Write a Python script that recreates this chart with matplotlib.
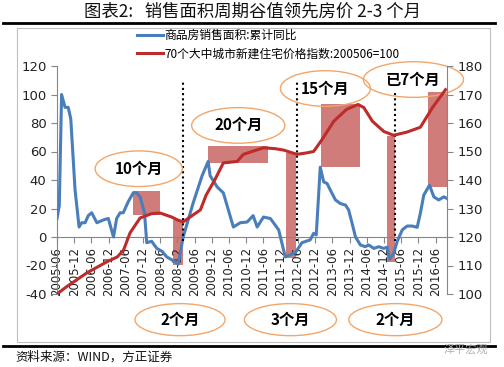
import matplotlib
matplotlib.use("Agg")
from matplotlib import pyplot as plt
from matplotlib.patches import Ellipse, Rectangle
from matplotlib.lines import Line2D

plt.rcParams['font.family'] = ['Noto Sans CJK SC', 'DejaVu Sans']
plt.rcParams['axes.unicode_minus'] = False

# months counted from 2005-06
tick_labels = ["2005-06", "2005-12", "2006-06", "2006-12", "2007-06", "2007-12",
               "2008-06", "2008-12", "2009-06", "2009-12", "2010-06", "2010-12",
               "2011-06", "2011-12", "2012-06", "2012-12", "2013-06", "2013-12",
               "2014-06", "2014-12", "2015-06", "2015-12", "2016-06"]
tick_months = [0, 6, 12, 18, 24, 30, 36, 42, 48, 54, 60, 66, 72, 78, 84, 90,
               96, 102, 108, 114, 120, 126, 132]

# 商品房销售面积:累计同比 (left axis, %)
sales_m = [0.0, 0.8, 1.6, 2.8, 3.9, 4.8, 6.3, 7.7, 8.6, 9.8, 10.9, 12.1, 13.9,
           16.2, 17.9, 19.7, 20.8, 22.0, 23.1, 24.9, 26.6, 27.8, 29.0, 30.5,
           31.3, 33.0, 34.8, 36.6, 38.3, 40.0, 42.3, 44.0, 47.5, 50.6, 52.7,
           53.4, 55.9, 58.0, 61.5, 63.9, 66.3, 68.4, 69.8, 72.0, 74.4, 77.3,
           79.0, 79.6, 83.1, 85.4, 88.3, 89.5, 90.4, 91.8, 93.0, 94.2, 95.3,
           97.1, 98.8, 100.6, 101.7, 102.9, 104.1, 105.8, 107.5, 108.7, 110.5,
           112.2, 113.9, 115.1, 116.0, 117.4, 118.6, 120.4, 122.1, 123.8, 125.6,
           126.7, 127.9, 129.9, 131.4, 133.1, 134.9, 136.0]
sales_v = [13, 22, 100, 91, 91, 83, 33, 7, 10, 10, 15, 17, 10,
           12, 13, 0, 13, 17, 17, 25, 31, 31, 28, 17,
           -4, -3, -8, -10, -14, -16, -19, 0, 24, 43, 53,
           43, 35, 31, 7, 10, 10.5, 15, 7, 14, 13, 5,
           -9, -14, -11, -4, -2, 2.6, 1.4, 49, 38.7, 37.5, 33,
           26, 23.5, 22.4, 19, 9.6, 0, -5.6, -6.8, -5.6, -8,
           -6.8, -8, -7.2, -15.6, -11.4, -3.3, 5, 7.7, 7.7, 6.8,
           16.6, 29.4, 36.4, 28.2, 26, 28.2, 27]

# 70个大中城市新建住宅价格指数:200506=100 (right axis)
price_m = [0, 3.4, 10.4, 17.4, 21, 23.2, 25.5, 29, 33, 36, 40, 42, 44, 46.4,
           50, 52, 55, 58, 62.8, 65, 68, 72, 76, 79, 83.7, 87, 89.5, 92.5,
           96.5, 101, 105, 107, 110, 114, 117.4, 122, 126.7, 131, 135.5]
price_v = [100, 102.6, 107.4, 111.3, 113, 115.4, 121.5, 126.7, 128.2, 128.4,
           127, 126, 125.3, 127, 129.5, 134.7, 140, 146, 146.5, 149, 150,
           151.3, 151, 150.5, 149, 149.5, 150, 154.3, 160.6, 164.8, 166.5,
           165.4, 160.6, 157, 155.7, 156.8, 158.5, 165.5, 171.7]

# shaded lead/lag blocks: start month, end month, low, high (left-axis units)
box_start = [26.5, 40.5, 52.7, 80.0, 92.0, 115.0, 129.5]
box_end = [36.0, 44.0, 73.7, 83.5, 105.8, 118.0, 136.5]
box_low = [15.4, -19.6, 51.7, -14.7, 49.0, -17.5, 35.0]
box_high = [32.0, 12.0, 63.6, 58.7, 93.0, 70.6, 102.0]

# turning points (dotted)
turn_m = [44.0, 83.8, 118.0]
turn_top = [110, 110, 101]

# callouts
note_text = ["10个月", "20个月", "15个月", "已7个月", "2个月", "3个月", "2个月"]
note_m = [28.5, 63.2, 93.6, 124.3, 42.9, 81.4, 118.0]
note_v = [47.9, 78.3, 104.2, 110.5, -58, -58, -58]
note_w = [30.4, 32.5, 31.4, 34.9, 31.4, 32.1, 32.5]

fig = plt.figure(figsize=(5.04, 3.67), dpi=100)
W, H = 504.0, 367.0

# title and page rules
fig.text(252 / W, 1 - 12 / H, "图表2:   销售面积周期谷值领先房价 2-3 个月",
         ha='center', va='center', fontsize=12.5, color='#111111')
fig.add_artist(Line2D([3 / W, 495 / W], [1 - 23 / H, 1 - 23 / H],
                      color='black', lw=2))
fig.add_artist(Rectangle((17 / W, 1 - 342 / H), 473 / W, 314 / H,
                         transform=fig.transFigure, fill=False,
                         edgecolor='#bfbfbf', lw=0.8))
fig.add_artist(Line2D([3 / W, 495 / W], [1 - 345.5 / H, 1 - 345.5 / H],
                      color='black', lw=2))
fig.text(15 / W, 1 - 357 / H, "资料来源：WIND，方正证券", ha='left',
         va='center', fontsize=9, color='#111111')
fig.text(488 / W, 1 - 349 / H, "泽平宏观", ha='right', va='center',
         fontsize=8, color='#b0b0b0')

ax = fig.add_axes([57 / W, 1 - 294 / H, 390 / W, 228 / H])
ax2 = ax.twinx()

for i in range(len(box_start)):
    ax.bar(box_start[i], box_high[i] - box_low[i], bottom=box_low[i],
           width=box_end[i] - box_start[i], align='edge',
           color='#C0504D', alpha=0.75, lw=0, zorder=1)

for i in range(len(turn_m)):
    ax.plot([turn_m[i], turn_m[i]], [-3, turn_top[i]], color='black',
            ls=(0, (1, 1.5)), lw=1.5, zorder=4, clip_on=False)

l1, = ax.plot(sales_m, sales_v, color='#4A7EBB', lw=2.2, zorder=3,
              label="商品房销售面积:累计同比")
l2, = ax2.plot(price_m, price_v, color='#BE2B2B', lw=2.2,
               label="70个大中城市新建住宅价格指数:200506=100")

ax.set_xlim(0, 136)
ax.set_ylim(-40, 120)
ax.set_yticks(range(-40, 121, 20))
ax2.set_ylim(100, 180)
ax2.set_yticks(range(100, 181, 10))
ax.set_xticks(tick_months)
ax.set_xticklabels(tick_labels)

axis_grey = '#868686'
ax.spines['top'].set_visible(False)
ax.spines['right'].set_visible(False)
ax.spines['bottom'].set_position(('data', 0))
for s in ('top', 'bottom', 'left'):
    ax2.spines[s].set_visible(False)
ax.spines['left'].set_color(axis_grey)
ax.spines['bottom'].set_color(axis_grey)
ax2.spines['right'].set_color(axis_grey)
ax.tick_params(axis='x', direction='out', length=4, color=axis_grey, pad=3,
               labelcolor='#222222', labelrotation=90, labelsize=8.5)
ax.tick_params(axis='y', direction='out', length=4, color=axis_grey,
               labelsize=9.5, labelcolor='#222222')
ax2.tick_params(axis='y', direction='out', length=4, color=axis_grey,
                labelsize=9.5, labelcolor='#222222')
for lab in ax.get_xticklabels() + ax.get_yticklabels() + ax2.get_yticklabels():
    lab.set_family('DejaVu Sans')

for i in range(len(note_text)):
    ax.add_patch(Ellipse((note_m[i], note_v[i]), note_w[i], 25 if i < 4 else 22.5,
                         facecolor='none', edgecolor='#F2A66A', lw=1,
                         clip_on=False, zorder=5))
    ax.text(note_m[i], note_v[i], note_text[i], ha='center', va='center',
            fontsize=11, fontweight='bold', color='black', zorder=6,
            clip_on=False)

fig.legend(handles=[l1, l2], loc='upper left',
           bbox_to_anchor=(137 / W, 1 - 29 / H), frameon=False,
           fontsize=8.5, handlelength=2.2, handletextpad=0.15,
           labelspacing=0.45, borderpad=0, borderaxespad=0)

fig.savefig('out.png', dpi=100)
